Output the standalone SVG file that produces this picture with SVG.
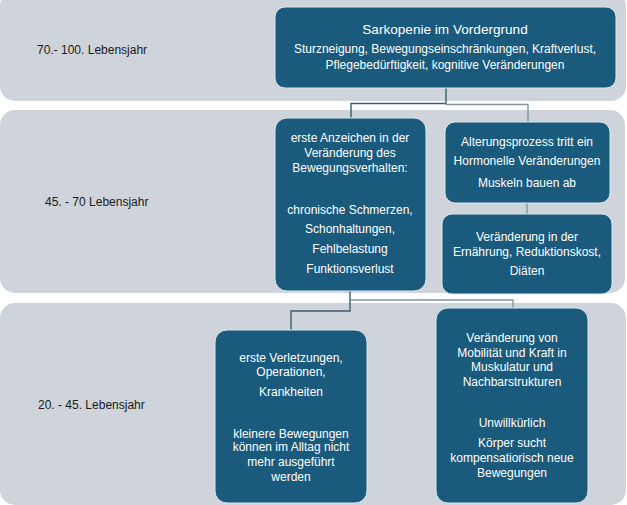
<svg xmlns="http://www.w3.org/2000/svg" width="627" height="505" viewBox="0 0 627 505">
<style>
.band{fill:#cfd3da}
.node{fill:#195a7d;stroke:#dbe7ef;stroke-width:1}
.t{font-family:"Liberation Sans",Arial,sans-serif;font-size:12px;fill:#ffffff;text-anchor:middle}
.ttl{font-size:13.6px}
.lbl{font-family:"Liberation Sans",Arial,sans-serif;font-size:12px;fill:#1a1a1a}
.c{fill:none;stroke:#3f5c6b;stroke-width:1.4}
.c2{fill:none;stroke:#7d96a2;stroke-width:1.4}
</style>
<rect width="627" height="505" fill="#ffffff"/>
<g id="bands">
<rect class="band" x="0" y="-9" width="626" height="110" rx="15"/>
<rect class="band" x="0" y="110" width="625" height="183" rx="15"/>
<rect class="band" x="0" y="303" width="626" height="202" rx="15"/>
<text class="lbl" x="37" y="54">70.- 100. Lebensjahr</text>
<text class="lbl" x="45" y="206">45. - 70 Lebensjahr</text>
<text class="lbl" x="38" y="409">20. - 45. Lebensjahr</text>
</g>
<g id="connectors">
<path class="c" d="M446 87V103.5H351V119"/>
<path class="c2" d="M446 103.5V104.5H528V122"/>
<path class="c2" d="M527 203V214"/>
<path class="c" d="M350 290V311H291V330"/>
<path class="c2" d="M350 300H513V308"/>
</g>
<g id="n-sarkopenie">
<rect class="node" x="275" y="7" width="341" height="81" rx="10"/>
<text class="t ttl" x="445" y="34">Sarkopenie im Vordergrund</text>
<text class="t" x="445" y="53">Sturzneigung, Bewegungseinschränkungen, Kraftverlust,</text>
<text class="t" x="445" y="69">Pflegebedürftigkeit, kognitive Veränderungen</text>
</g>
<g id="n-anzeichen">
<rect class="node" x="275" y="118" width="151" height="173" rx="12"/>
<text class="t" x="350" y="142">erste Anzeichen in der</text>
<text class="t" x="350" y="157">Veränderung des</text>
<text class="t" x="350" y="172">Bewegungsverhalten:</text>
<text class="t" x="350" y="214">chronische Schmerzen,</text>
<text class="t" x="350" y="233">Schonhaltungen,</text>
<text class="t" x="350" y="253">Fehlbelastung</text>
<text class="t" x="350" y="273">Funktionsverlust</text>
</g>
<g id="n-alterung">
<rect class="node" x="445" y="122" width="165" height="81" rx="10"/>
<text class="t" x="527" y="146">Alterungsprozess tritt ein</text>
<text class="t" x="527" y="165">Hormonelle Veränderungen</text>
<text class="t" x="527" y="187">Muskeln bauen ab</text>
</g>
<g id="n-ernaehrung">
<rect class="node" x="442" y="214" width="170" height="80" rx="10"/>
<text class="t" x="527" y="241">Veränderung in der</text>
<text class="t" x="527" y="256">Ernährung, Reduktionskost,</text>
<text class="t" x="527" y="275">Diäten</text>
</g>
<g id="n-verletzungen">
<rect class="node" x="215" y="330" width="152" height="173" rx="12"/>
<text class="t" x="291" y="362">erste Verletzungen,</text>
<text class="t" x="291" y="376">Operationen,</text>
<text class="t" x="291" y="396">Krankheiten</text>
<text class="t" x="291" y="438">kleinere Bewegungen</text>
<text class="t" x="291" y="451">können im Alltag nicht</text>
<text class="t" x="291" y="466">mehr ausgeführt</text>
<text class="t" x="291" y="481">werden</text>
</g>
<g id="n-mobilitaet">
<rect class="node" x="436" y="308" width="152" height="195" rx="12"/>
<text class="t" x="512" y="342">Veränderung von</text>
<text class="t" x="512" y="357">Mobilität und Kraft in</text>
<text class="t" x="512" y="371">Muskulatur und</text>
<text class="t" x="512" y="386">Nachbarstrukturen</text>
<text class="t" x="512" y="427">Unwillkürlich</text>
<text class="t" x="512" y="447">Körper sucht</text>
<text class="t" x="512" y="462">kompensatiorisch neue</text>
<text class="t" x="512" y="477">Bewegungen</text>
</g>
</svg>
